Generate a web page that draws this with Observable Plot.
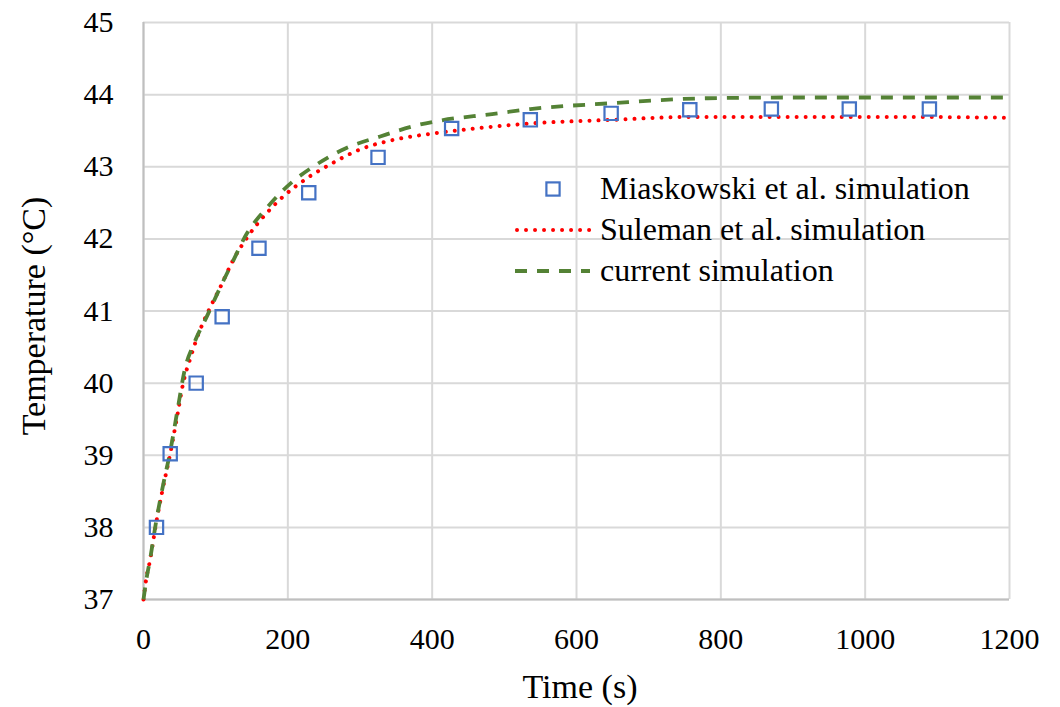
<!DOCTYPE html>
<html>
<head>
<meta charset="utf-8">
<script src="https://cdn.jsdelivr.net/npm/d3@7"></script>
<script src="https://cdn.jsdelivr.net/npm/@observablehq/plot@0.6"></script>
<style>
  html, body { margin: 0; padding: 0; background: #fff; }
  #chart { position: relative; width: 1060px; height: 707px; }
  #chart svg text { font-family: "Liberation Serif", "Times New Roman", serif !important; font-variant-numeric: normal !important; }
</style>
</head>
<body>
<div id="chart"></div>
<script>
// Tick values
const xTicks = [0, 200, 400, 600, 800, 1000, 1200];
const yTicks = [37, 38, 39, 40, 41, 42, 43, 44, 45];

// Miaskowski et al. simulation (markers)
const miaskTime = [18, 37, 73, 109, 160, 229, 325, 427, 536, 648, 757, 870, 978, 1089];
const miaskTemp = [38.0, 39.02, 40.0, 40.92, 41.87, 42.64, 43.13, 43.53, 43.65, 43.74, 43.79, 43.8, 43.8, 43.8];

// Suleman et al. simulation (dotted)
const sulemanTime = [0, 4, 9, 17, 27, 37, 47, 55, 65, 75, 90, 105, 125, 145, 170, 195, 225, 260, 300, 350, 400, 450, 536, 648, 757, 900, 1050, 1200];
const sulemanTemp = [37.0, 37.3, 37.54, 38.03, 38.55, 39.02, 39.56, 40.0, 40.35, 40.65, 41.0, 41.3, 41.72, 42.04, 42.35, 42.6, 42.83, 43.04, 43.24, 43.38, 43.46, 43.52, 43.6, 43.65, 43.69, 43.69, 43.69, 43.68];

// current simulation (dashed)
const currentTime = [0, 4, 9, 17, 27, 37, 47, 57, 70, 89, 105, 122, 143, 170, 205, 235, 279, 328, 381, 411, 483, 536, 647, 781, 900, 1050, 1200];
const currentTemp = [37.0, 37.28, 37.55, 38.05, 38.58, 39.05, 39.62, 40.18, 40.55, 40.95, 41.3, 41.65, 42.07, 42.42, 42.78, 43.0, 43.25, 43.42, 43.58, 43.64, 43.73, 43.8, 43.88, 43.95, 43.96, 43.96, 43.96];

const seriesNames = ["Miaskowski et al. simulation", "Suleman et al. simulation", "current simulation"];
const colors = { marker: "#4472C4", dotted: "#FF0000", dashed: "#548235", grid: "#D9D9D9" };
const font = "Liberation Serif";

const toRows = (ts, vs) => ts.map((t, i) => ({ t, v: vs[i] }));
const miask = toRows(miaskTime, miaskTemp);
const suleman = toRows(sulemanTime, sulemanTemp);
const current = toRows(currentTime, currentTemp);

const dottedStyle = { stroke: colors.dotted, strokeWidth: 4, strokeDasharray: "0.01 9", strokeLinecap: "round" };
const dashedStyle = { stroke: colors.dashed, strokeWidth: 3.8, strokeDasharray: "12 10", strokeLinecap: "butt" };
const markerStyle = { symbol: "square", r: 7.5, stroke: colors.marker, strokeWidth: 2.2, fill: "none" };

const chart = Plot.plot({
  width: 1060,
  height: 707,
  marginLeft: 143,
  marginRight: 51,
  marginTop: 22,
  marginBottom: 108,
  style: { fontFamily: font, fontSize: "30px", color: "#000", background: "#fff" },
  x: { domain: [0, 1200] },
  y: { domain: [37, 45] },
  marks: [
    Plot.gridX(xTicks, { stroke: colors.grid, strokeOpacity: 1, strokeWidth: 2 }),
    Plot.gridY(yTicks, { stroke: colors.grid, strokeOpacity: 1, strokeWidth: 2 }),
    Plot.ruleY([37], { stroke: "#BFBFBF", strokeWidth: 2 }),
    Plot.ruleX([0], { stroke: "#BFBFBF", strokeWidth: 2 }),
    Plot.line(suleman, { x: "t", y: "v", curve: "monotone-x", ...dottedStyle }),
    Plot.line(current, { x: "t", y: "v", curve: "monotone-x", ...dashedStyle }),
    Plot.dot(miask, { x: "t", y: "v", ...markerStyle }),
    Plot.axisX(xTicks, { tickSize: 0, tickPadding: 28, label: null, fontSize: 30, fontFamily: font, fontVariant: "normal", textAnchor: "middle", tickFormat: d3.format("d") }),
    Plot.axisY(yTicks, { tickSize: 0, tickPadding: 30, label: null, fontSize: 30, fontFamily: font, fontVariant: "normal", tickFormat: d3.format("d") })
  ]
});

document.getElementById("chart").appendChild(chart);

// Axis titles and legend, drawn on top of the plot's SVG
const svg = d3.select(chart);

svg.append("text")
  .attr("x", 580).attr("y", 698)
  .attr("text-anchor", "middle")
  .attr("font-size", 34).attr("fill", "#000")
  .text("Time (s)");

svg.append("text")
  .attr("transform", "translate(45,316) rotate(-90)")
  .attr("text-anchor", "middle")
  .attr("font-size", 34).attr("fill", "#000")
  .text("Temperature (°C)");

const legend = svg.append("g")
  .attr("font-size", 32).attr("fill", "#000")
  .attr("text-anchor", "start");
const rows = [
  { name: seriesNames[0], kind: "marker", y: 189 },
  { name: seriesNames[1], kind: "dotted", y: 230 },
  { name: seriesNames[2], kind: "dashed", y: 271 }
];
for (const r of rows) {
  if (r.kind === "marker") {
    legend.append("rect")
      .attr("x", 553 - 6.6).attr("y", r.y - 6.6).attr("width", 13.2).attr("height", 13.2)
      .attr("fill", "none").attr("stroke", colors.marker).attr("stroke-width", 2.2);
  } else {
    const s = r.kind === "dotted" ? dottedStyle : dashedStyle;
    legend.append("line")
      .attr("x1", r.kind === "dotted" ? 517 : 515).attr("x2", 590).attr("y1", r.y).attr("y2", r.y)
      .attr("stroke", s.stroke).attr("stroke-width", s.strokeWidth)
      .attr("stroke-dasharray", s.strokeDasharray).attr("stroke-linecap", s.strokeLinecap);
  }
  legend.append("text").attr("x", 600).attr("y", r.y + 10).attr("text-anchor", "start").text(r.name);
}

// Use the serif face for every label in the figure
svg.selectAll("text").style("font-family", "'Liberation Serif', 'Times New Roman', serif");
</script>
</body>
</html>
